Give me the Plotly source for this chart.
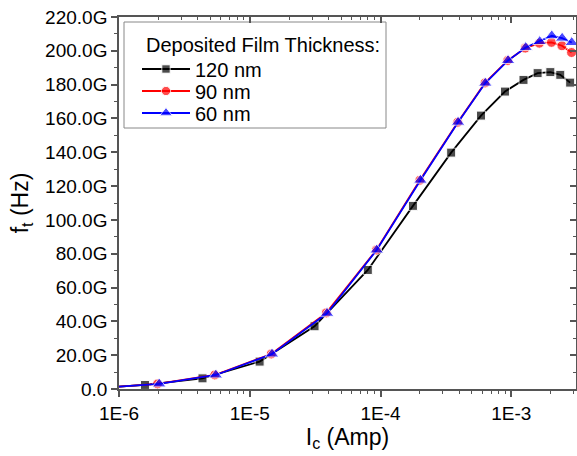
import plotly.graph_objects as go

# Data (f_t in GHz, Ic in A)
x_120 = [1.0e-6, 1.58e-6, 4.35e-6, 1.19e-5, 3.13e-5, 8.0e-5, 1.77e-4, 3.47e-4, 5.87e-4, 8.95e-4, 1.24e-3, 1.59e-3, 1.99e-3, 2.37e-3, 2.82e-3]
y_120 = [1.4, 2.4, 6.3, 16.2, 37.1, 70.4, 108.3, 139.8, 161.7, 175.9, 182.8, 186.8, 187.4, 185.8, 181.2]

x_90 = [1.0e-6, 1.97e-6, 5.4e-6, 1.46e-5, 3.85e-5, 9.3e-5, 2.0e-4, 3.9e-4, 6.3e-4, 9.4e-4, 1.28e-3, 1.64e-3, 2.03e-3, 2.44e-3, 2.89e-3]
y_90 = [1.4, 3.0, 8.3, 20.7, 45.0, 82.2, 123.5, 157.8, 181.0, 194.3, 201.6, 204.5, 205.0, 203.0, 199.0]

x_60 = [1.0e-6, 2.03e-6, 5.5e-6, 1.48e-5, 3.9e-5, 9.35e-5, 2.02e-4, 3.92e-4, 6.33e-4, 9.45e-4, 1.29e-3, 1.65e-3, 2.04e-3, 2.45e-3, 2.9e-3]
y_60 = [1.4, 3.0, 8.3, 20.7, 44.8, 82.2, 123.5, 157.8, 180.9, 194.3, 202.0, 205.5, 208.9, 207.5, 204.9]

series_names = ["120 nm", "90 nm", "60 nm"]
legend_title = "Deposited Film Thickness:"

y_tickvals = [0, 20, 40, 60, 80, 100, 120, 140, 160, 180, 200, 220]
y_ticktext = ["0.0"] + [f"{v:.1f}G" for v in y_tickvals[1:]]
x_tickvals = [1e-6, 1e-5, 1e-4, 1e-3]
x_ticktext = ["1E-6", "1E-5", "1E-4", "1E-3"]

FONT = "Liberation Sans, Arial, sans-serif"
AX = "#555555"
W, H = 577, 456
ML, MR, MT, MB = 119, 1, 17, 67
PW, PH = W - ML - MR, H - MT - MB


def px_x(p):
    return (p - ML) / PW


def px_y(p):
    return (H - MB - p) / PH


fig = go.Figure()
specs = [
    (x_120, y_120, "#000000", "square", 9),
    (x_90, y_90, "#ff0000", "circle", 10),
    (x_60, y_60, "#0000ff", "triangle-up", 12),
]
legend_ids = ["legend", "legend2", "legend3"]
for (xs, ys, col, sym, sz), name, lid in zip(specs, series_names, legend_ids):
    fig.add_trace(go.Scatter(
        x=xs, y=ys, name=name, mode="lines+markers", legend=lid,
        line=dict(color=col, width=1.8),
        marker=dict(color=col, symbol=sym, size=[0] + [sz] * (len(xs) - 1)),
    ))

# helper trace for mirrored (inside-tick) top/right axes
fig.add_trace(go.Scatter(x=[None], y=[None], xaxis="x2", yaxis="y2", showlegend=False, hoverinfo="skip"))

minor_x = [m * 10.0 ** e for e in (-6, -5, -4, -3) for m in range(2, 10) if m * 10.0 ** e < 3.2e-3]

legend_common = dict(xanchor="left", yanchor="middle", borderwidth=0,
                     bgcolor="rgba(0,0,0,0)", font=dict(size=20), itemwidth=48)
entry_y = [69, 91, 113]

layout_legends = {}
for lid, py in zip(legend_ids, entry_y):
    layout_legends[lid] = dict(x=px_x(137), y=px_y(py), **legend_common)

fig.update_layout(
    width=W, height=H,
    margin=dict(l=ML, r=MR, t=MT, b=MB),
    paper_bgcolor="white", plot_bgcolor="white",
    font=dict(family=FONT, size=19, color="black"),
    showlegend=True,
    **layout_legends,
    shapes=[dict(type="rect", xref="paper", yref="paper",
                 x0=px_x(124), x1=px_x(386), y0=px_y(128), y1=px_y(22),
                 line=dict(color="#888888", width=1), fillcolor="white", layer="below")],
    annotations=[dict(text=legend_title, xref="paper", yref="paper",
                      x=px_x(144), y=px_y(45), xanchor="left", yanchor="middle",
                      showarrow=False, font=dict(size=20))],
    xaxis=dict(
        type="log", range=[-6, -2.505],
        tickvals=x_tickvals, ticktext=x_ticktext,
        ticks="outside", ticklen=6, tickwidth=1.5, tickcolor=AX,
        showline=True, linecolor=AX, linewidth=1.5,
        showgrid=False, zeroline=False,
        minor=dict(ticks="outside", ticklen=3.5, tickwidth=1.2, tickcolor=AX, showgrid=False,
                   tickvals=minor_x),
        title=dict(text="I<sub>c</sub> (Amp)", standoff=6),
    ),
    yaxis=dict(
        range=[0, 220],
        tickvals=y_tickvals, ticktext=y_ticktext,
        ticks="outside", ticklen=6, tickwidth=1.5, tickcolor=AX,
        showline=True, linecolor=AX, linewidth=1.5,
        showgrid=False, zeroline=False,
        minor=dict(ticks="outside", ticklen=3.5, tickwidth=1.2, tickcolor=AX, showgrid=False, dtick=10),
        title=dict(text="f<sub>t</sub> (Hz)", standoff=10),
    ),
    xaxis2=dict(
        type="log", range=[-6, -2.505], overlaying="x", side="top", anchor="y2",
        tickvals=x_tickvals, showticklabels=False,
        ticks="inside", ticklen=6, tickwidth=1.5, tickcolor=AX,
        showline=True, linecolor=AX, linewidth=1.5, showgrid=False, zeroline=False,
        minor=dict(ticks="inside", ticklen=3.5, tickwidth=1.2, tickcolor=AX, showgrid=False,
                   tickvals=minor_x),
    ),
    yaxis2=dict(
        range=[0, 220], overlaying="y", side="right", anchor="x2",
        tickvals=y_tickvals, showticklabels=False,
        ticks="inside", ticklen=6, tickwidth=1.5, tickcolor=AX,
        showline=True, linecolor=AX, linewidth=1.5, showgrid=False, zeroline=False,
        minor=dict(ticks="inside", ticklen=3.5, tickwidth=1.2, tickcolor=AX, showgrid=False, dtick=10),
    ),
)

fig.write_html("out.html")
